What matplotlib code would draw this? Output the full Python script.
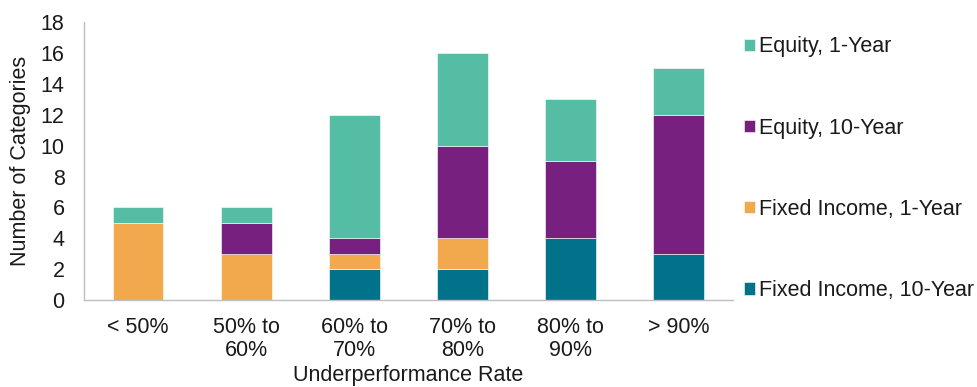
import matplotlib
matplotlib.use("Agg")
import matplotlib.pyplot as plt
import numpy as np

plt.rcParams["font.family"] = ["Liberation Sans", "DejaVu Sans"]

# ── data ──────────────────────────────────────────────────────────────────────
categories = ["< 50%", "50% to\n60%", "60% to\n70%", "70% to\n80%", "80% to\n90%", "> 90%"]
fixed_income_10y = [0, 0, 2, 2, 4, 3]
fixed_income_1y = [5, 3, 1, 2, 0, 0]
equity_10y = [0, 2, 1, 6, 5, 9]
equity_1y = [1, 1, 8, 6, 4, 3]

series = [
    ("Fixed Income, 10-Year", fixed_income_10y, "#00728A"),
    ("Fixed Income, 1-Year", fixed_income_1y, "#F2A94D"),
    ("Equity, 10-Year", equity_10y, "#78207F"),
    ("Equity, 1-Year", equity_1y, "#55BDA3"),
]

# ── plot ──────────────────────────────────────────────────────────────────────
TEXT_C = "#1A1A1A"
AXIS_C = "#BFBFBF"
FS = 15.5

fig = plt.figure(figsize=(9.77, 3.87), dpi=100)
ax = fig.add_axes([0.086, 0.2248, 0.664, 0.718])

x = np.arange(len(categories))
bottom = np.zeros(len(categories))
handles = []
for label, vals, color in series:
    bars = ax.bar(x, vals, width=0.47, bottom=bottom, color=color,
                  edgecolor="white", linewidth=0.4, label=label)
    handles.append(bars)
    bottom += np.array(vals)

ax.set_xlim(-0.5, len(categories) - 0.5)
ax.set_ylim(0, 18)
ax.set_yticks(range(0, 19, 2))
ax.set_xticks(x)
ax.set_xticklabels(categories, fontsize=FS, color=TEXT_C, linespacing=1.15)
ax.tick_params(axis="y", labelsize=FS, colors=TEXT_C, length=0, pad=14)
ax.tick_params(axis="x", length=0, pad=12)

for side in ("top", "right"):
    ax.spines[side].set_visible(False)
for side in ("left", "bottom"):
    ax.spines[side].set_color(AXIS_C)
    ax.spines[side].set_linewidth(1.0)

ax.set_ylabel("Number of Categories", fontsize=FS, color=TEXT_C, labelpad=7)
ax.set_xlabel("Underperformance Rate", fontsize=FS, color=TEXT_C, labelpad=3)

leg = fig.legend(handles=handles[::-1], labels=[s[0] for s in series][::-1],
                 loc="upper left", bbox_to_anchor=(0.7615, 0.906),
                 frameon=False, fontsize=FS, labelspacing=2.8, borderpad=0,
                 borderaxespad=0, handlelength=0.5, handleheight=0.5,
                 handletextpad=0.2)
for t in leg.get_texts():
    t.set_color(TEXT_C)

fig.savefig("out.png", dpi=100, facecolor="white")
